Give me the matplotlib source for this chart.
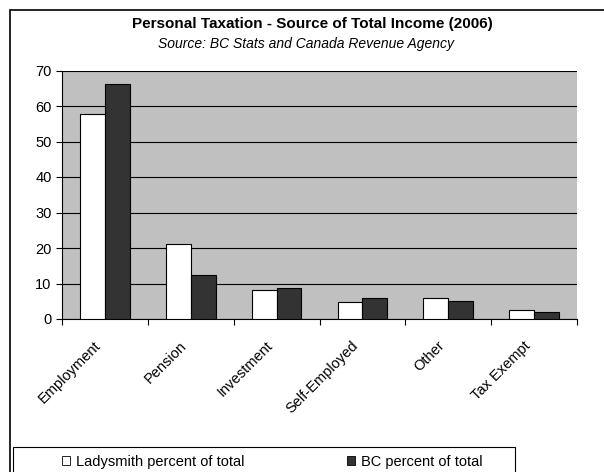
import numpy as np
import matplotlib
matplotlib.use("Agg")
import matplotlib.pyplot as plt
import matplotlib.transforms as mtransforms
from matplotlib.patches import Rectangle, Patch

plt.rcParams['font.family'] = ['Liberation Sans', 'DejaVu Sans']

# income sources and shares of total income (%)
categories = ["Employment", "Pension", "Investment", "Self-Employed", "Other", "Tax Exempt"]
ladysmith = [57.7, 21.0, 8.3, 4.7, 6.0, 2.4]
bc = [66.1, 12.4, 8.7, 5.9, 5.0, 2.1]
series_names = ["Ladysmith percent of total", "BC percent of total"]

fig = plt.figure(figsize=(6.04, 4.72), dpi=100)

# outer chart frame
fig.patches.append(Rectangle((10 / 604, -0.05), 1.0, 0.05 + 462 / 472,
                             transform=fig.transFigure, fill=False,
                             edgecolor='black', linewidth=1.2, zorder=0))

ax = fig.add_axes([62 / 604, 153 / 472, 515 / 604, 248.5 / 472])
ax.set_facecolor('#C0C0C0')

x = np.arange(len(categories))
w = 0.29
ax.bar(x - w / 2, ladysmith, w, color='white', edgecolor='black', linewidth=0.8, zorder=3)
ax.bar(x + w / 2, bc, w, color='#333333', edgecolor='black', linewidth=0.8, zorder=3)

ax.set_xlim(-0.5, len(categories) - 0.5)
ax.set_ylim(0, 70)
ax.set_yticks(range(0, 71, 10))
ax.yaxis.grid(True, color='black', linewidth=0.8, zorder=1)
ax.set_axisbelow(True)

# tick marks on the category boundaries
ax.set_xticks(np.arange(-0.5, len(categories), 1.0))
ax.set_xticklabels([])
ax.tick_params(axis='x', length=4.5, width=0.8, direction='out')
ax.tick_params(axis='y', length=4.5, width=0.8, labelsize=10.5, pad=3)

# slanted category names, hung just left of each group centre
lab_trans = mtransforms.offset_copy(ax.get_xaxis_transform(), fig=fig,
                                    x=-8, y=-14, units='points')
for i, name in enumerate(categories):
    ax.text(i, 0, name, transform=lab_trans, rotation=45, ha='right', va='top',
            rotation_mode='anchor', fontsize=10.5)

for side in ['top', 'right']:
    ax.spines[side].set_visible(False)
ax.spines['left'].set_linewidth(0.8)
ax.spines['bottom'].set_linewidth(0.8)

fig.text(312 / 604, 1 - 24 / 472, "Personal Taxation - Source of Total Income (2006)",
         ha='center', va='center', fontsize=11, fontweight='bold')
fig.text(306 / 604, 1 - 44 / 472, "Source: BC Stats and Canada Revenue Agency",
         ha='center', va='center', fontsize=10, style='italic')

# legend box at the bottom
fig.patches.append(Rectangle((13 / 604, -0.05), 502 / 604, 0.05 + 25 / 472,
                             transform=fig.transFigure, fill=False,
                             edgecolor='black', linewidth=0.8, zorder=1))
handles = [Patch(facecolor='white', edgecolor='black', linewidth=0.6),
           Patch(facecolor='#333333', edgecolor='black', linewidth=0.6)]
fig.legend(handles, series_names, loc='center left', bbox_to_anchor=(55 / 604, 10 / 472),
           ncol=2, frameon=False, fontsize=10.5, handlelength=0.55, handleheight=0.55,
           handletextpad=0.4, columnspacing=7.0, borderpad=0)

fig.savefig("out.png", dpi=100)
